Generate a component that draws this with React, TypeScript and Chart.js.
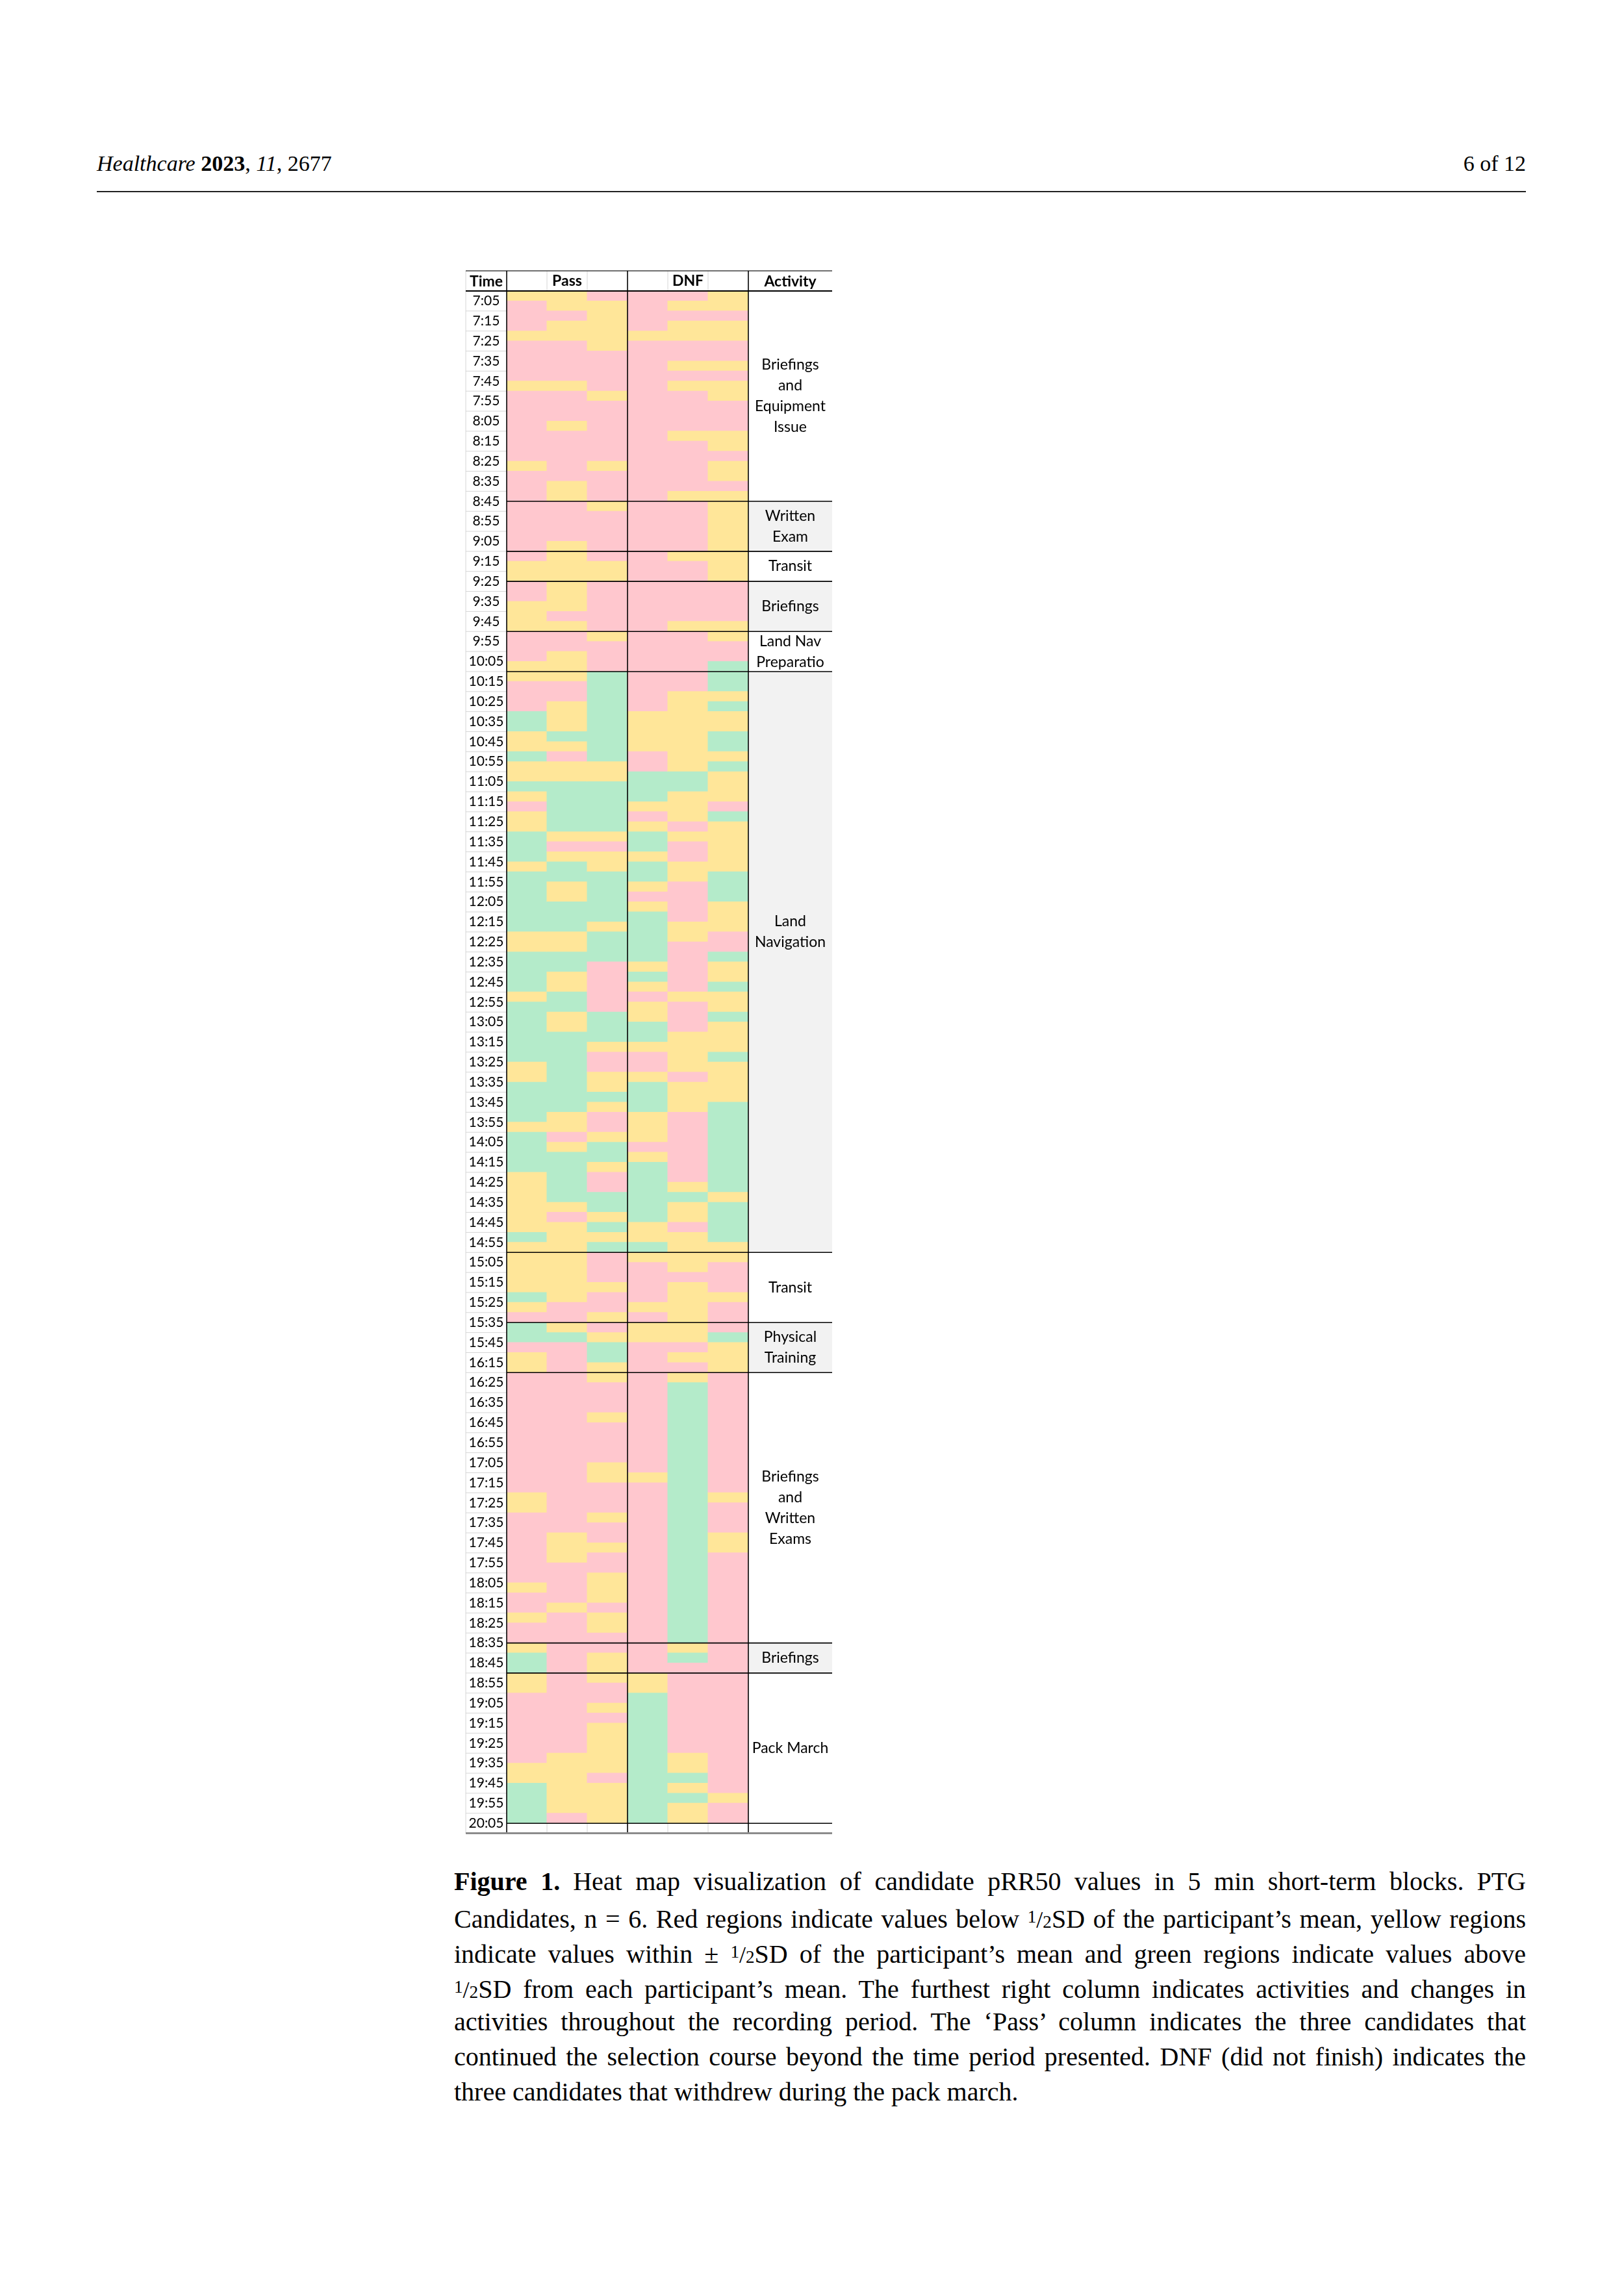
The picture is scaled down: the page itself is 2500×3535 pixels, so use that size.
import React, { useEffect, useRef } from 'react';
import { Chart, registerables } from 'chart.js';

Chart.register(...registerables);

// ---------- DATA ----------
const timeLabels = [
  '7:05', '7:15', '7:25', '7:35', '7:45', '7:55', '8:05', '8:15', '8:25', '8:35', '8:45', '8:55',
  '9:05', '9:15', '9:25', '9:35', '9:45', '9:55', '10:05', '10:15', '10:25', '10:35', '10:45', '10:55',
  '11:05', '11:15', '11:25', '11:35', '11:45', '11:55', '12:05', '12:15', '12:25', '12:35', '12:45', '12:55',
  '13:05', '13:15', '13:25', '13:35', '13:45', '13:55', '14:05', '14:15', '14:25', '14:35', '14:45', '14:55',
  '15:05', '15:15', '15:25', '15:35', '15:45', '16:15', '16:25', '16:35', '16:45', '16:55',
  '17:05', '17:15', '17:25', '17:35', '17:45', '17:55', '18:05', '18:15', '18:25', '18:35', '18:45', '18:55',
  '19:05', '19:15', '19:25', '19:35', '19:45', '19:55', '20:05',
];

const candidateKeys = ['Pass-1', 'Pass-2', 'Pass-3', 'DNF-1', 'DNF-2', 'DNF-3'];
const headerLabels = ['', 'Pass', '', '', 'DNF', ''];

const activityNames = [
  'Briefings\nand\nEquipment\nIssue',
  'Written\nExam',
  'Transit',
  'Briefings',
  'Land Nav\nPreparatio',
  'Land\nNavigation',
  'Transit',
  'Physical\nTraining',
  'Briefings\nand\nWritten\nExams',
  'Briefings',
  'Pack March',
];
// number of 5-min rows in each activity block
const activityRows = [21, 5, 3, 5, 4, 58, 7, 5, 27, 3, 15];

// P = below 1/2SD (red), Y = within (yellow), G = above (green); one string per activity block
const pass1 = [
  'Y PPP Y PPPP Y PPPPPPP Y PPP',
  'PPPPP',
  'P YY',
  'PP YYY',
  'PPP Y',
  'Y PPP GG YY G YY G Y P YY GGG Y GGGGGG YY GGGG Y GGGGGG YY GGGG Y GGGG YYYYYY G Y',
  'YYYY G Y P',
  'GG P YY',
  'PPPPPP PPPPPP YY PPPPPPP Y PP Y PP',
  'Y GG',
  'YY PPPPPPP YY GGGG',
];
const pass2 = [
  'YY P YY PPPP Y PPP Y PPPPP YY',
  'PPPP Y',
  'YYY',
  'YYY P Y',
  'PP YY',
  'Y PP YYY G Y P YY GGGGG Y P Y GG YY GGG YY GG YY GG YY GGGGGGGG YY P Y GGGGG Y P YYY',
  'YYYYY PP',
  'Y G PPP',
  'PPPPPPPP PPPPPPPP YYY PPPP Y PPP',
  'PPP',
  'PPPPPPPP YYYYYY P',
];
const pass3 = [
  'P YYYYY PPPP Y PPPPPP Y PPP',
  'Y PPPP',
  'P YY',
  'PPPPP',
  'Y PPP',
  'GGGGGGGGG YY GGGGG Y P YY GGGGG Y GGG PPPPP GGG Y PP YY G Y PP Y GG Y PP GG Y G Y G',
  'PPP Y PP Y',
  'P Y GG Y',
  'Y PPP Y PPPP YY PPP Y PP Y PP YYY P YY P',
  'P YY',
  'Y PP Y P YYYYY P YYYY',
];
const dnf1 = [
  'PPPP Y PPPPPPPP PPPPPPPP',
  'PPPPP',
  'PPP',
  'PPPPP',
  'PPPP',
  'PPPP YYYY PP GGG Y P Y GG Y GG Y P Y GGGGG Y G Y P YY GG Y PP Y GGG YYY P Y GGGGGG YY G',
  'Y PPPP Y P',
  'YY PPP',
  'PPPPPPPPPP Y PPPPPPPP PPPPPPPP',
  'PPP',
  'YY GGGGGGG GGGGGG',
];
const dnf2 = [
  'P Y P YY PP Y P Y PPPP Y PPPPP Y',
  'PPPPP',
  'Y PP',
  'PPPP Y',
  'PPPP',
  'PP YYYYYYYY GG YYY P Y PP YY PPPP YY PPPPP Y PPP YYYY P YYY PPPPPPP Y G YY P YY',
  'YY P YYYY',
  'YY P Y P',
  'Y GGGGGGGGGGGGG GGGGGGGGGGGGG',
  'Y G P',
  'PPPPPPPP YY G Y G YY',
];
const dnf3 = [
  'YY P YY PP Y P YY PPP YY P YY P Y',
  'YYYYY',
  'YYY',
  'PPPP Y',
  'Y PP G',
  'GG Y G YY GG Y G YYY P G YYYYY GGG YYY PP G YY G YY G YYY G YYYY GGGGGGGGG Y GGGG Y',
  'Y PPP Y PP',
  'P G YYY',
  'PPPPPP PPPPPP Y PPP YY PPPPPPPPP',
  'PPP',
  'PPPPPP PPPPPP Y PP',
];

const CODE_COLORS: Record<string, string> = { P: '#FFC7CE', Y: '#FFE699', G: '#B4EBCA' };

// ---------- LAYOUT ----------
const CANVAS_W = 600;
const CANVAS_H = 2440;
const TABLE_LEFT = 17;
const TIME_W = 63;
const ACT_W = 129;
const HEADER_H = 31;
const LABEL_SHIFT: Record<number, number> = { 5: -3 };
const FONT = 'Lato';
const TIME_FONT_SIZE = 21;
const ACT_FONT_SIZE = 23;

const tablePlugin = {
  id: 'tableFrame',
  beforeDatasetsDraw(chart: any) {
    const { ctx, chartArea: ca, scales } = chart;
    const y = scales.y;
    ctx.save();
    let s = 0;
    activityRows.forEach((n, i) => {
      if (i % 2 === 1) {
        const y0 = y.getPixelForValue(s);
        const y1 = y.getPixelForValue(s + n);
        ctx.fillStyle = '#F2F2F2';
        ctx.fillRect(ca.right, y0, ACT_W, y1 - y0);
      }
      s += n;
    });
    ctx.restore();
  },
  afterDatasetsDraw(chart: any) {
    const { ctx, chartArea: ca, scales } = chart;
    const y = scales.y;
    const py = (v: number) => y.getPixelForValue(v);
    const L = TABLE_LEFT;
    const R = ca.right + ACT_W;
    const T = ca.top - HEADER_H;
    const B = ca.bottom;
    const colW = (ca.right - ca.left) / 6;
    const totalData = activityRows.reduce((a, b) => a + b, 0);
    ctx.save();
    const line = (x1: number, y1: number, x2: number, y2: number, color: string, w: number) => {
      ctx.beginPath();
      ctx.strokeStyle = color;
      ctx.lineWidth = w;
      ctx.moveTo(x1, y1);
      ctx.lineTo(x2, y2);
      ctx.stroke();
    };
    // time column gridlines
    for (let r = 2; r < totalData + 1; r += 2) line(L, py(r), ca.left, py(r), '#D6D6D6', 1);
    // light inner lines in header & empty last row
    [1, 2, 4, 5].forEach((c) => {
      const x = ca.left + c * colW;
      line(x, T, x, ca.top, '#D6D6D6', 1);
      line(x, py(totalData), x, B, '#D6D6D6', 1);
    });
    line(L, T, L, B, '#D6D6D6', 1);
    // section lines
    let s = 0;
    activityRows.forEach((n) => {
      s += n;
      line(ca.left, py(s), R, py(s), '#000', 1.6);
    });
    // header borders
    line(L, T, R, T, '#404040', 1.5);
    line(L, ca.top, R, ca.top, '#000', 2);
    // main verticals
    [ca.left, ca.left + 3 * colW, ca.right].forEach((x) => line(x, T, x, B, '#000', 1.6));
    // bottom border
    line(L, B, R, B, '#8C8C8C', 3);
    // header texts
    ctx.fillStyle = '#000';
    ctx.textAlign = 'center';
    ctx.textBaseline = 'middle';
    ctx.font = `bold 23px ${FONT}`;
    ctx.fillText('Time', L + TIME_W / 2, T + HEADER_H / 2 + 1);
    ctx.fillText('Activity', ca.right + ACT_W / 2, T + HEADER_H / 2 + 1);
    // activity labels
    ctx.font = `${ACT_FONT_SIZE}px ${FONT}`;
    s = 0;
    activityNames.forEach((name, i) => {
      const n = activityRows[i];
      const center = s + n / 2 + (LABEL_SHIFT[i] || 0);
      const lines = name.split('\n');
      const yc = py(center);
      lines.forEach((t, k) => {
        ctx.fillText(t, ca.right + ACT_W / 2, yc + (k - (lines.length - 1) / 2) * 32);
      });
      s += n;
    });
    ctx.restore();
  },
};

const half = (
  <span>
    <span style={{ fontSize: '0.68em', verticalAlign: '0.3em' }}>1</span>
    <span style={{ fontSize: '0.9em' }}>/</span>
    <span style={{ fontSize: '0.68em' }}>2</span>
  </span>
);

export default function App() {
  const ref = useRef<HTMLCanvasElement>(null);

  useEffect(() => {
    const canvas = ref.current;
    if (!canvas) return;
    const series = [pass1, pass2, pass3, dnf1, dnf2, dnf3];
    const points: any[] = [];
    const colors: string[] = [];
    series.forEach((blocks, c) => {
      const codes = blocks.join('').replace(/\s+/g, '');
      let i = 0;
      while (i < codes.length) {
        let j = i;
        while (j < codes.length && codes[j] === codes[i]) j++;
        points.push({ x: candidateKeys[c], y: [i, j] });
        colors.push(CODE_COLORS[codes[i]]);
        i = j;
      }
    });
    const totalRows = activityRows.reduce((a, b) => a + b, 0) + 1;

    const mctx = document.createElement('canvas').getContext('2d') as CanvasRenderingContext2D;
    mctx.font = `${TIME_FONT_SIZE}px ${FONT}`;
    const widest = Math.max(...timeLabels.map((t) => mctx.measureText(t).width));
    const yPad = TIME_W / 2 - widest / 2;

    const chart = new Chart(canvas, {
      type: 'bar',
      data: {
        labels: candidateKeys,
        datasets: [
          {
            data: points,
            backgroundColor: colors,
            borderWidth: 0,
            barPercentage: 1,
            categoryPercentage: 1,
            inflateAmount: 0.5,
          } as any,
        ],
      },
      options: {
        animation: false,
        responsive: false,
        devicePixelRatio: 1,
        layout: {
          padding: {
            left: TABLE_LEFT,
            top: TABLE_LEFT,
            right: CANVAS_W - (TABLE_LEFT + TIME_W + 372),
            bottom: 17.4,
          },
        },
        plugins: { legend: { display: false }, tooltip: { enabled: false } },
        scales: {
          x: {
            type: 'category',
            position: 'top',
            grid: { display: false, drawTicks: false },
            border: { display: false },
            ticks: {
              autoSkip: false,
              maxRotation: 0,
              padding: 2,
              color: '#000',
              font: { family: FONT, size: 23, weight: 'bold' },
              callback: (_v: any, i: number) => headerLabels[i],
            },
            afterFit: (s: any) => {
              s.height = HEADER_H;
            },
          } as any,
          y: {
            type: 'linear',
            min: 0,
            max: totalRows,
            reverse: true,
            grid: { display: false, drawTicks: false },
            border: { display: false },
            afterBuildTicks: (s: any) => {
              s.ticks = timeLabels.map((_, i) => ({ value: 2 * i + 1 }));
            },
            ticks: {
              autoSkip: false,
              padding: yPad,
              crossAlign: 'center',
              color: '#000',
              font: { family: FONT, size: TIME_FONT_SIZE },
              callback: (_v: any, i: number) => timeLabels[i] ?? '',
            },
            afterFit: (s: any) => {
              s.width = TIME_W;
            },
          } as any,
        },
      },
      plugins: [tablePlugin],
    });
    return () => chart.destroy();
  }, []);

  const lineStyle: React.CSSProperties = {
    position: 'absolute',
    left: 699,
    width: 1650,
    height: 54,
    lineHeight: '54px',
    fontSize: 40,
    whiteSpace: 'nowrap',
    textAlign: 'justify',
    textAlignLast: 'justify' as any,
  };
  const capTop = 2870;
  const captionLines: React.ReactNode[] = [
    <>
      <b>Figure 1.</b>{'\u2002'}Heat map visualization of candidate pRR50 values in 5 min short-term blocks.{'\u2002'}PTG
    </>,
    <>
      Candidates, n = 6. Red regions indicate values below {half}SD of the participant’s mean, yellow regions
    </>,
    <>
      indicate values within ± {half}SD of the participant’s mean and green regions indicate values above
    </>,
    <>
      {half}SD from each participant’s mean. The furthest right column indicates activities and changes in
    </>,
    <>activities throughout the recording period. The ‘Pass’ column indicates the three candidates that</>,
    <>continued the selection course beyond the time period presented. DNF (did not finish) indicates the</>,
    <>three candidates that withdrew during the pack march.</>,
  ];

  return (
    <div
      style={{
        position: 'absolute',
        left: 0,
        top: 0,
        width: 2500,
        height: 3535,
        background: '#fff',
        color: '#000',
        fontFamily: '"Liberation Serif", serif',
        overflow: 'hidden',
      }}
    >
      <div style={{ position: 'absolute', left: 149, top: 232, fontSize: 34, lineHeight: '40px', whiteSpace: 'nowrap' }}>
        <i>Healthcare</i> <b>2023</b>, <i>11</i>, 2677
      </div>
      <div style={{ position: 'absolute', right: 151, top: 232, fontSize: 34, lineHeight: '40px', whiteSpace: 'nowrap' }}>
        6 of 12
      </div>
      <div style={{ position: 'absolute', left: 149, top: 294, width: 2200, height: 2, background: '#222' }} />
      <canvas
        ref={ref}
        width={CANVAS_W}
        height={CANVAS_H}
        style={{ position: 'absolute', left: 700, top: 400, width: CANVAS_W, height: CANVAS_H }}
      />
      {captionLines.map((content, i) => (
        <div
          key={i}
          style={{
            ...lineStyle,
            top: capTop + i * 54,
            ...(i === captionLines.length - 1 ? { textAlign: 'left', textAlignLast: 'left' as any } : {}),
          }}
        >
          {content}
        </div>
      ))}
    </div>
  );
}
